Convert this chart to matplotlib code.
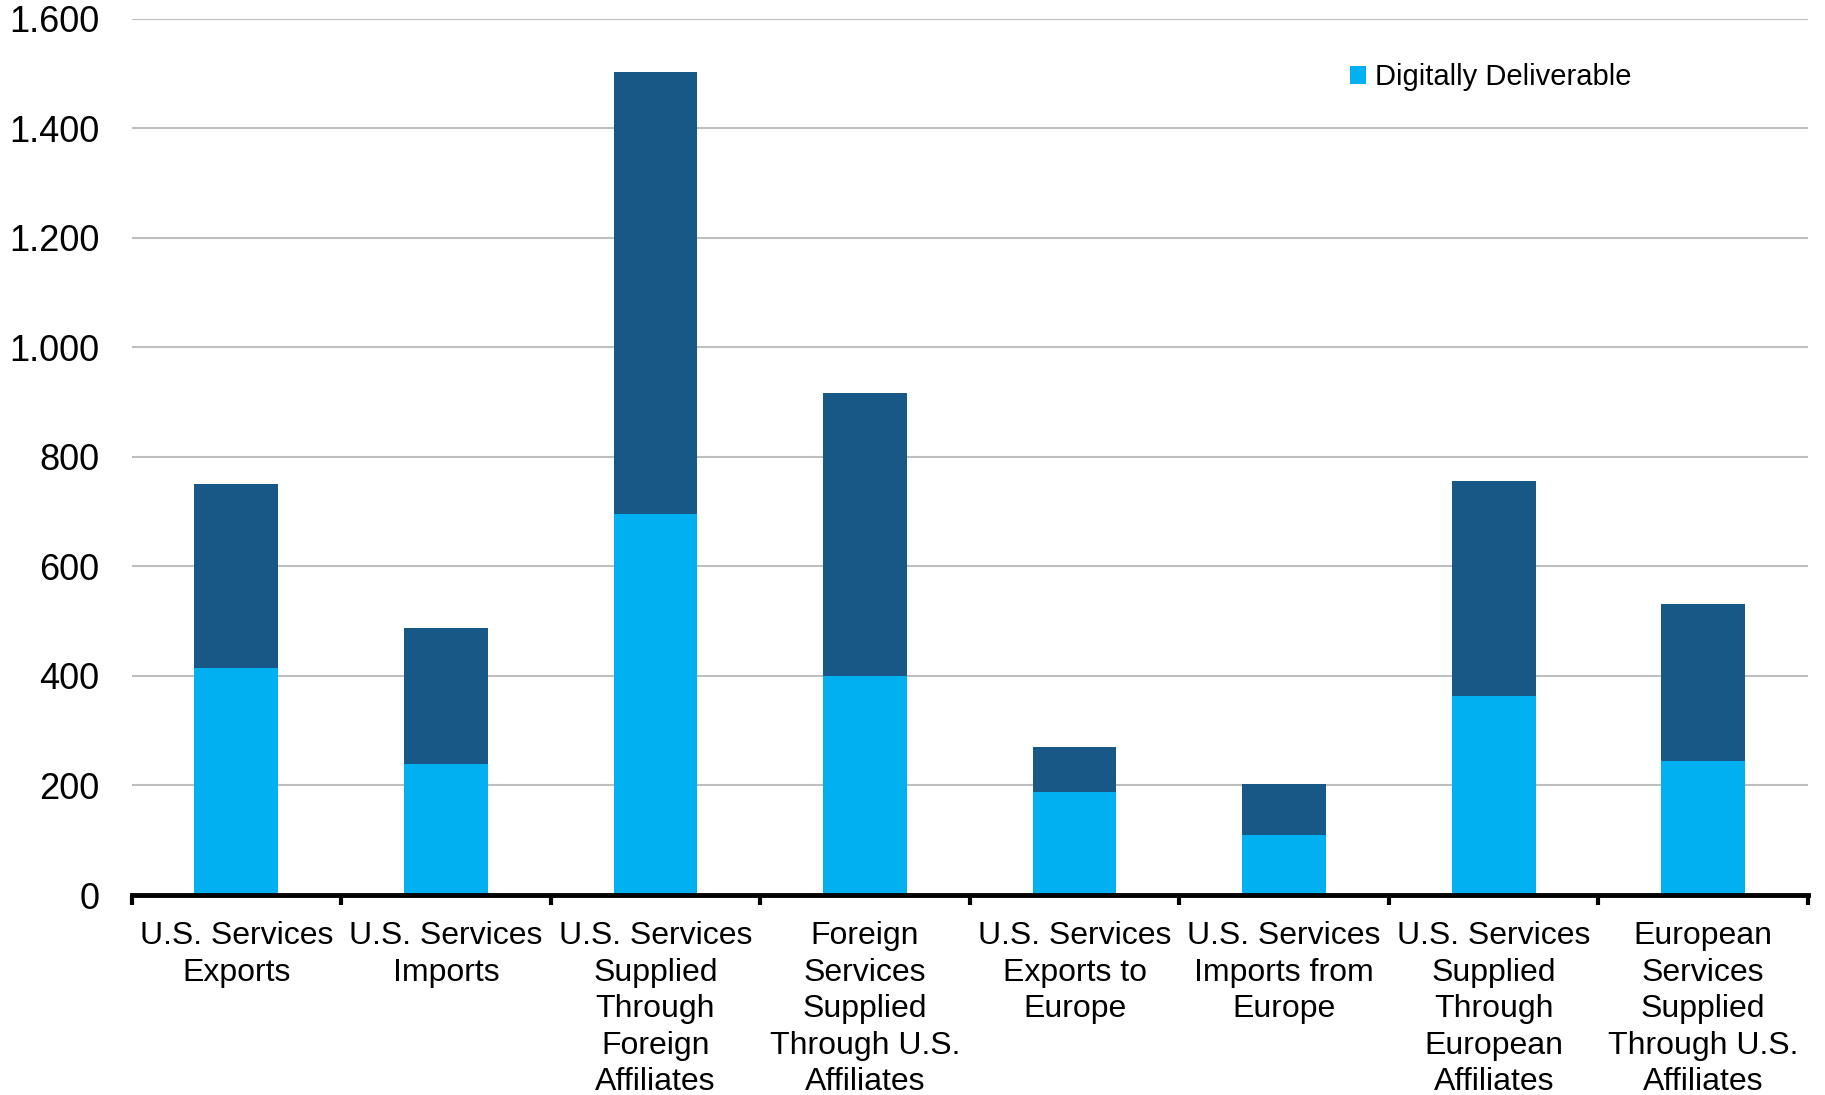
import matplotlib.pyplot as plt
import numpy as np
from matplotlib.ticker import FuncFormatter, FixedLocator

plt.rcParams["font.family"] = ["Liberation Sans", "DejaVu Sans"]

categorias = [
    "U.S. Services\nExports",
    "U.S. Services\nImports",
    "U.S. Services\nSupplied\nThrough\nForeign\nAffiliates",
    "Foreign\nServices\nSupplied\nThrough U.S.\nAffiliates",
    "U.S. Services\nExports to\nEurope",
    "U.S. Services\nImports from\nEurope",
    "U.S. Services\nSupplied\nThrough\nEuropean\nAffiliates",
    "European\nServices\nSupplied\nThrough U.S.\nAffiliates",
]
digital = [415, 239, 695, 400, 188, 109, 363, 244]
no_digital = [335, 248, 808, 516, 83, 93, 392, 288]

color_digital = "#00B0F0"
color_resto = "#175887"

fig = plt.figure(figsize=(18.25, 10.95), dpi=100)
ax = fig.add_axes([0.0721, 0.1826, 0.9186, 0.8004])

x = np.arange(len(categorias))
ax.bar(x, digital, width=0.4, color=color_digital, label="Digitally Deliverable", zorder=2)
ax.bar(x, no_digital, width=0.4, bottom=digital, color=color_resto, zorder=2)

ax.set_xlim(-0.5, len(categorias) - 0.5)
ax.set_ylim(0, 1600)
ax.set_yticks(np.arange(0, 1601, 200))
ax.yaxis.set_major_formatter(FuncFormatter(lambda v, _: f"{int(v):,}".replace(",", ".")))
ax.grid(axis="y", color="#BFBFBF", linewidth=1.5, zorder=0)
ax.tick_params(axis="y", length=0, pad=23, labelsize=26)

ax.set_xticks(x)
ax.set_xticklabels(categorias, fontsize=23, linespacing=1.28)
ax.tick_params(axis="x", which="major", length=0, pad=19)
ax.xaxis.set_minor_locator(FixedLocator(np.arange(-0.5, len(categorias), 1.0)))
ax.tick_params(axis="x", which="minor", length=7, width=3, color="black", direction="out")

for lado in ["top", "right", "left"]:
    ax.spines[lado].set_visible(False)
ax.spines["bottom"].set_linewidth(3.5)
ax.spines["bottom"].set_zorder(3)

ax.legend(loc="upper left", bbox_to_anchor=(0.711, 0.979), frameon=False,
          fontsize=21, handlelength=0.55, handleheight=0.55, handletextpad=0.3)

fig.savefig("out.png", dpi=100)
